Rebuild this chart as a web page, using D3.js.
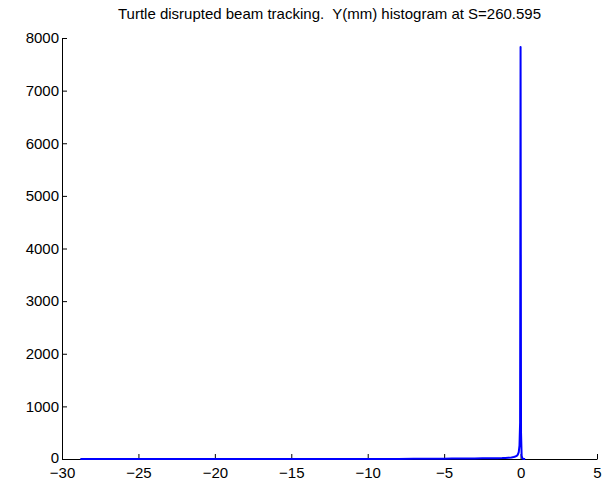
<!DOCTYPE html>
<html>
<head>
<meta charset="utf-8">
<script src="https://cdn.jsdelivr.net/npm/d3@7"></script>
<style>
  html, body { margin: 0; padding: 0; background: #fff; }
  svg { display: block; }
  text { font-family: "Liberation Sans", Arial, Helvetica, sans-serif; }
</style>
</head>
<body>
<svg id="chart" width="604" height="482"></svg>
<script>
// Histogram of vertical position Y (mm) at S = 260.595
const binY = [-28.8, -25, -20, -15, -12, -10, -8, -7, -6, -5.5, -5, -4.5, -4, -3.5, -3, -2.5, -2, -1.5, -1.2, -1.0, -0.8, -0.6, -0.45, -0.35, -0.25, -0.18, -0.12, -0.07, -0.03, 0.0, 0.03, 0.07, 0.12, 0.2, 0.3];
const counts = [0, 0, 0, 1, 0, 1, 2, 3, 4, 5, 6, 8, 9, 10, 11, 12, 13, 15, 17, 20, 25, 30, 38, 48, 60, 85, 130, 260, 700, 7830, 500, 60, 10, 2, 0];

const xTicks = [-30, -25, -20, -15, -10, -5, 0, 5];
const yTicks = [0, 1000, 2000, 3000, 4000, 5000, 6000, 7000, 8000];
const titleText = "Turtle disrupted beam tracking.  Y(mm) histogram at S=260.595";

const margin = { left: 62, right: 7, top: 38, bottom: 23 };
const W = 604, H = 482;
const fontSize = 15;

const svg = d3.select("#chart");

const x = d3.scaleLinear().domain([-30, 5]).range([margin.left, W - margin.right]);
const y = d3.scaleLinear().domain([0, 8000]).range([H - margin.bottom, margin.top]);

const fmt = d => (d < 0 ? "\u2212" + Math.abs(d) : String(d));

// Bottom axis, ticks pointing inward
const gx = svg.append("g")
  .attr("transform", `translate(0,${y(0)})`)
  .call(d3.axisBottom(x).tickValues(xTicks).tickSizeInner(-5).tickSizeOuter(0).tickPadding(8).tickFormat(fmt));

// Left axis, ticks pointing inward
const gy = svg.append("g")
  .attr("transform", `translate(${x(-30)},0)`)
  .call(d3.axisLeft(y).tickValues(yTicks).tickSizeInner(-5).tickSizeOuter(0).tickPadding(3).tickFormat(fmt));

[gx, gy].forEach(g => {
  g.select(".domain").attr("stroke", "#000").attr("stroke-width", 1);
  g.selectAll(".tick line").attr("stroke", "#000");
  g.selectAll(".tick text").attr("fill", "#000").attr("font-size", fontSize);
});
gx.selectAll(".tick text").attr("dy", "0.71em");
// the zero label sits just above the corner, clear of the first x label
gy.selectAll(".tick text").filter(d => d === 0).attr("dy", "0.2em");

// Histogram trace
const line = d3.line().x((d, i) => x(binY[i])).y(d => y(d));
svg.append("path")
  .datum(counts)
  .attr("d", line)
  .attr("fill", "none")
  .attr("stroke", "#0000ff")
  .attr("stroke-width", 2)
  .attr("stroke-linejoin", "round");

// Title, centred over the axes
svg.append("text")
  .attr("x", (x(-30) + x(5)) / 2)
  .attr("y", 19)
  .attr("text-anchor", "middle")
  .attr("font-size", fontSize)
  .attr("fill", "#000")
  .style("white-space", "pre")
  .text(titleText);
</script>
</body>
</html>
